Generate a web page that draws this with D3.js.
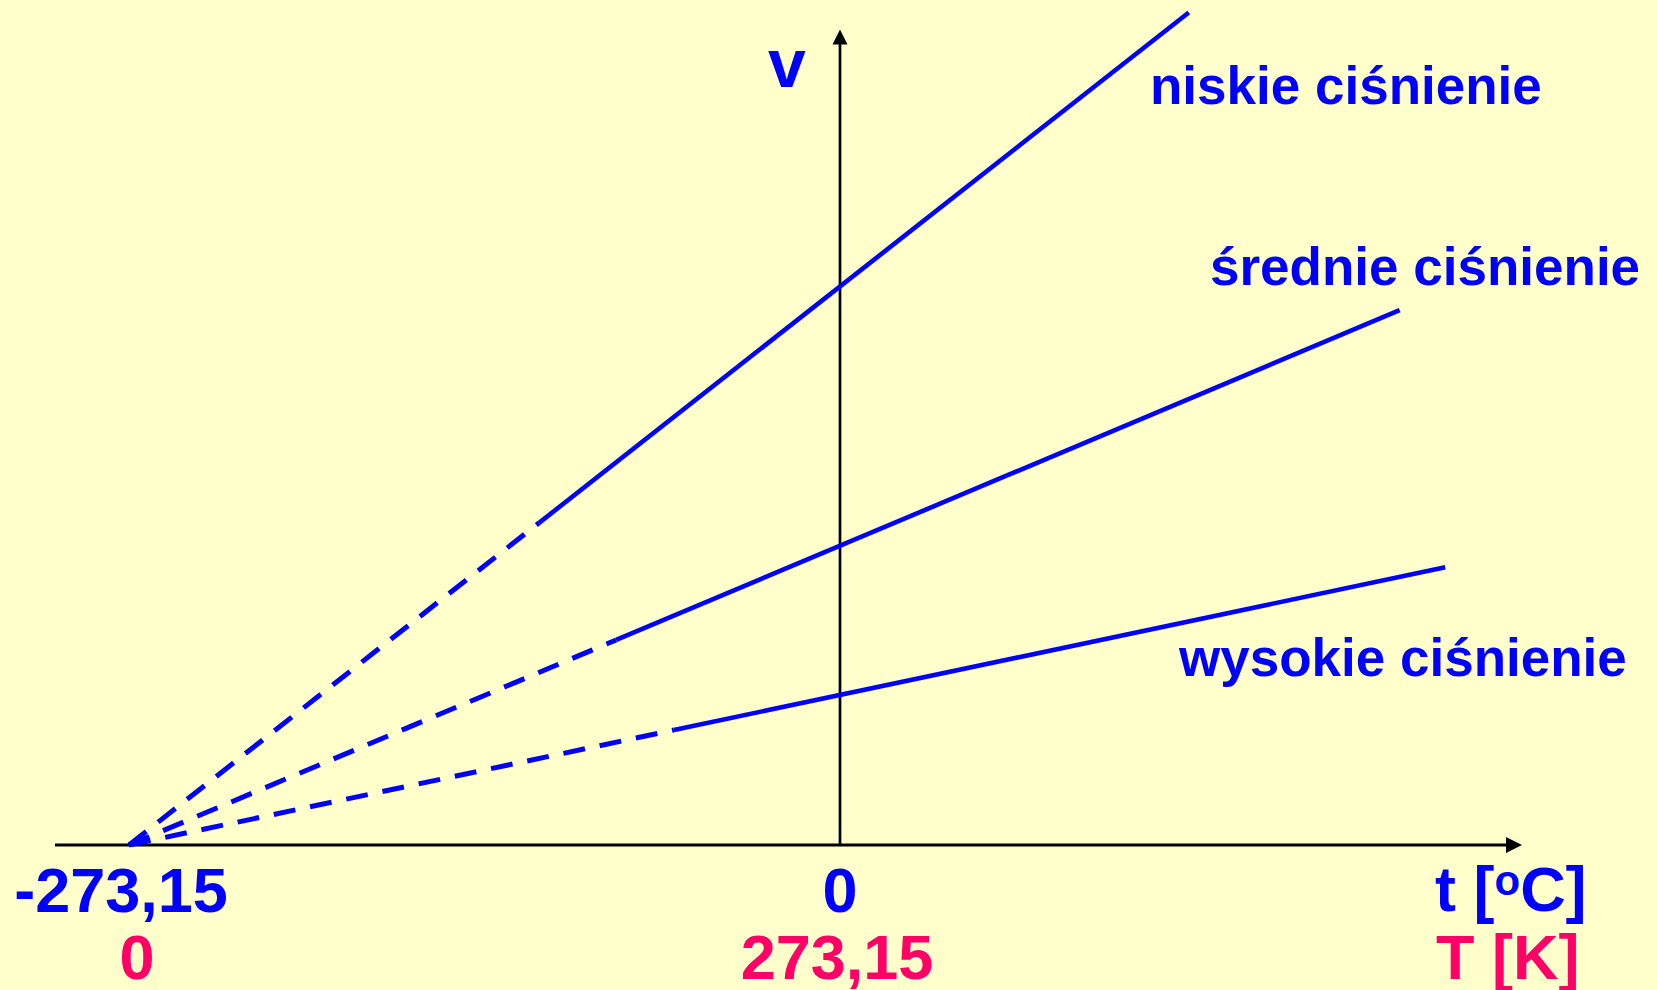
<!DOCTYPE html>
<html>
<head>
<meta charset="utf-8">
<script src="https://cdn.jsdelivr.net/npm/d3@7"></script>
<style>
  html, body { margin: 0; padding: 0; background: #FFFFCC; }
  svg { display: block; }
  text { font-family: "Liberation Sans", Arial, sans-serif; font-weight: bold; }
</style>
</head>
<body>
<div id="chart"></div>
<script>
// data -- volume (arbitrary units) vs temperature, three pressures
const seriesNames = ["niskie ciśnienie", "średnie ciśnienie", "wysokie ciśnienie"];
const volumeAt0C = [6.85, 3.67, 1.84];       // V at t = 0 °C
const dashedUntil = [-115.6, -86, -63.8];    // extrapolated part (°C)
const lineEnd = [134, 215, 232.5];           // where each line stops (°C)
const absZero = -273.15;
const celsiusTicks = [-273.15, 0];
const celsiusLabels = ["-273,15", "0"];
const kelvinLabels = ["0", "273,15"];
const axisRangeC = [-301.6, 262];
const yMax = 10;

const blue = "#0000FF";
const red = "#FF0066";
const width = 1657, height = 990;

const x = d3.scaleLinear().domain([absZero, 0]).range([129, 840]);
const y = d3.scaleLinear().domain([0, yMax]).range([845, 29.6]);

function volume(i, t) {
    return volumeAt0C[i] * (t - absZero) / -absZero;
}

const svg = d3.select("#chart")
    .append("svg")
    .attr("width", width)
    .attr("height", height);

svg.append("rect")
    .attr("width", width)
    .attr("height", height)
    .style("fill", "#FFFFCC");

// axes
svg.append("line")
    .attr("x1", x(axisRangeC[0])).attr("x2", x(axisRangeC[1]) - 14)
    .attr("y1", y(0)).attr("y2", y(0))
    .style("stroke", "black").style("stroke-width", 3);

svg.append("path")
    .attr("d", `M${x(axisRangeC[1])},${y(0)} l-16,-8 l0,16 z`)
    .style("fill", "black");

svg.append("line")
    .attr("x1", x(0)).attr("x2", x(0))
    .attr("y1", y(0)).attr("y2", y(yMax) + 12)
    .style("stroke", "black").style("stroke-width", 2.7);

svg.append("path")
    .attr("d", `M${x(0)},${y(yMax)} l-7.5,15 l15,0 z`)
    .style("fill", "black");

// lines: dashed extrapolation to absolute zero, solid measured part
const line = d3.line().x(d => x(d[0])).y(d => y(d[1]));

seriesNames.forEach((name, i) => {
    svg.append("path")
        .attr("d", line([[absZero, 0], [dashedUntil[i], volume(i, dashedUntil[i])]]))
        .style("fill", "none")
        .style("stroke", blue)
        .style("stroke-width", 5)
        .style("stroke-dasharray", "22,15");

    svg.append("path")
        .attr("d", line([[dashedUntil[i], volume(i, dashedUntil[i])], [lineEnd[i], volume(i, lineEnd[i])]]))
        .style("fill", "none")
        .style("stroke", blue)
        .style("stroke-width", 4.6);
});

// series labels
const labelPos = [[1150, 104], [1210, 285], [1179, 676]];
svg.selectAll("text.series")
    .data(seriesNames)
    .enter()
    .append("text")
    .attr("class", "series")
    .attr("x", (d, i) => labelPos[i][0])
    .attr("y", (d, i) => labelPos[i][1])
    .style("font-size", "53px")
    .style("fill", blue)
    .text(d => d);

// tick labels
const tickShift = [-8, 0];
svg.selectAll("text.celsius")
    .data(celsiusTicks)
    .enter()
    .append("text")
    .attr("class", "celsius")
    .attr("x", (d, i) => x(d) + tickShift[i])
    .attr("y", 912)
    .attr("text-anchor", "middle")
    .style("font-size", "63px")
    .style("fill", blue)
    .text((d, i) => celsiusLabels[i]);

const kelvinShift = [8, -3];
svg.selectAll("text.kelvin")
    .data(celsiusTicks)
    .enter()
    .append("text")
    .attr("class", "kelvin")
    .attr("x", (d, i) => x(d) + kelvinShift[i])
    .attr("y", 979)
    .attr("text-anchor", "middle")
    .style("font-size", "63px")
    .style("fill", red)
    .text((d, i) => kelvinLabels[i]);

// axis titles
const tTitle = svg.append("text")
    .attr("x", 1435).attr("y", 911)
    .style("font-size", "63px")
    .style("fill", blue);
tTitle.append("tspan").text("t [");
tTitle.append("tspan").attr("dy", -16).style("font-size", "42px").text("o");
tTitle.append("tspan").attr("dy", 16).text("C]");

svg.append("text")
    .attr("x", 1436).attr("y", 979)
    .style("font-size", "63px")
    .style("fill", red)
    .text("T [K]");

svg.append("text")
    .attr("x", 787).attr("y", 87)
    .attr("text-anchor", "middle")
    .style("font-size", "68px")
    .style("fill", blue)
    .text("v");
</script>
</body>
</html>
